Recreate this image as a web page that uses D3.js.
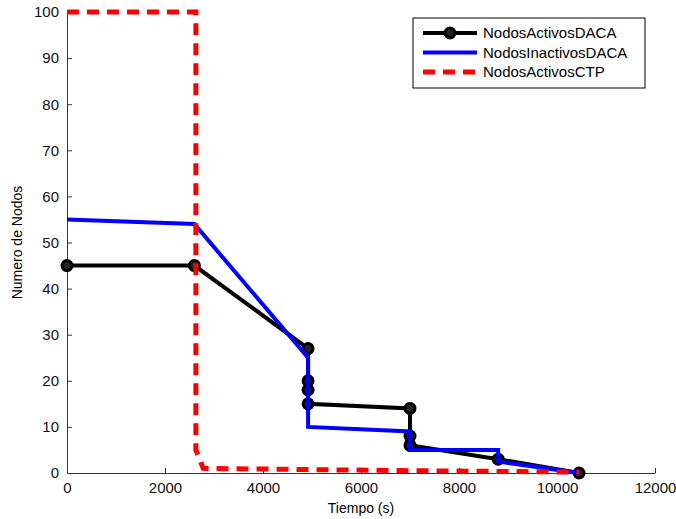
<!DOCTYPE html>
<html>
<head>
<meta charset="utf-8">
<script src="https://cdn.jsdelivr.net/npm/d3@7"></script>
<style>
  body { margin: 0; background: #fff; }
  text { font-family: "Liberation Sans", Arial, sans-serif; }
</style>
</head>
<body>
<div id="chart"></div>
<script>
(() => {

// Data
const activosDACA = [[0,45],[2600,45],[4920,27],[4920,20],[4920,18],[4920,15],[7000,14],[7000,8],[7000,6],[8800,3],[10450,0]];
const inactivosDACA = [[0,55],[2600,54],[4920,25],[4920,10],[7000,9],[7000,5],[8800,5],[8800,2.5],[10450,0]];
const activosCTP = [[0,100],[2630,100],[2630,5],[2780,1],[7000,0.5],[10450,0.2]];
const xTicks = [0,2000,4000,6000,8000,10000,12000];
const yTicks = [0,10,20,30,40,50,60,70,80,90,100];
const seriesNames = ["NodosActivosDACA","NodosInactivosDACA","NodosActivosCTP"];

const width = 676, height = 519;
const margin = {left: 67, right: 21, top: 12, bottom: 46};

const svg = d3.select("#chart")
  .append("svg")
  .attr("width", width)
  .attr("height", height);

const x = d3.scaleLinear().domain([0, 12000]).range([margin.left, width - margin.right]);
const y = d3.scaleLinear().domain([0, 100]).range([height - margin.bottom, margin.top]);

// Axes, ticks inward
const xAxis = svg.append("g")
  .attr("transform", `translate(0,${y(0)})`)
  .call(d3.axisBottom(x).tickValues(xTicks).tickFormat(d3.format("d"))
    .tickSizeInner(-5).tickSizeOuter(0).tickPadding(9));
const yAxis = svg.append("g")
  .attr("transform", `translate(${x(0)},0)`)
  .call(d3.axisLeft(y).tickValues(yTicks).tickSizeInner(-5).tickSizeOuter(0).tickPadding(8));

[xAxis, yAxis].forEach(g => {
  g.selectAll("path, line").attr("stroke", "#333");
  g.selectAll("text").attr("font-size", 15).attr("fill", "#111")
    .style("font-family", '"Liberation Sans", Arial, sans-serif');
});

svg.append("text")
  .attr("x", (x(0) + x(12000)) / 2)
  .attr("y", 513)
  .attr("text-anchor", "middle")
  .attr("font-size", 14)
  .text("Tiempo (s)");

svg.append("text")
  .attr("transform", `translate(22,${(y(0) + y(100)) / 2}) rotate(-90)`)
  .attr("text-anchor", "middle")
  .attr("font-size", 14)
  .text("Numero de Nodos");

const line = d3.line().x(d => x(d[0])).y(d => y(d[1]));

// Black series with markers
svg.append("path")
  .datum(activosDACA)
  .attr("d", line)
  .attr("fill", "none")
  .attr("stroke", "#000")
  .attr("stroke-width", 4);
svg.selectAll("circle.m")
  .data(activosDACA)
  .enter()
  .append("circle")
  .attr("class", "m")
  .attr("cx", d => x(d[0]))
  .attr("cy", d => y(d[1]))
  .attr("r", 5)
  .attr("fill", "#222")
  .attr("stroke", "#000")
  .attr("stroke-width", 3);

svg.append("path")
  .datum(inactivosDACA)
  .attr("d", line)
  .attr("fill", "none")
  .attr("stroke", "#0000ff")
  .attr("stroke-width", 4);

svg.append("path")
  .datum(activosCTP)
  .attr("d", line)
  .attr("fill", "none")
  .attr("stroke", "#ff0000")
  .attr("stroke-width", 5)
  .attr("stroke-dasharray", "12,8");

// Legend
const lg = svg.append("g").attr("transform", "translate(413,18)");
lg.append("rect")
  .attr("width", 232).attr("height", 70)
  .attr("fill", "#fff").attr("stroke", "#000").attr("stroke-width", 1);
const styles = [
  {stroke: "#000", w: 4, dash: null, marker: true},
  {stroke: "#0000ff", w: 4, dash: null, marker: false},
  {stroke: "#ff0000", w: 5, dash: "12,8", marker: false}
];
seriesNames.forEach((name, i) => {
  const yy = 15 + i * 19.5;
  const s = styles[i];
  lg.append("line")
    .attr("x1", 10).attr("x2", 64).attr("y1", yy).attr("y2", yy)
    .attr("stroke", s.stroke).attr("stroke-width", s.w)
    .attr("stroke-dasharray", s.dash);
  if (s.marker) {
    lg.append("circle").attr("cx", 37).attr("cy", yy).attr("r", 5)
      .attr("fill", "#222").attr("stroke", "#000").attr("stroke-width", 3);
  }
  lg.append("text")
    .attr("x", 70).attr("y", yy + 5)
    .attr("font-size", 15)
    .text(name);
});

})();
</script>
</body>
</html>
